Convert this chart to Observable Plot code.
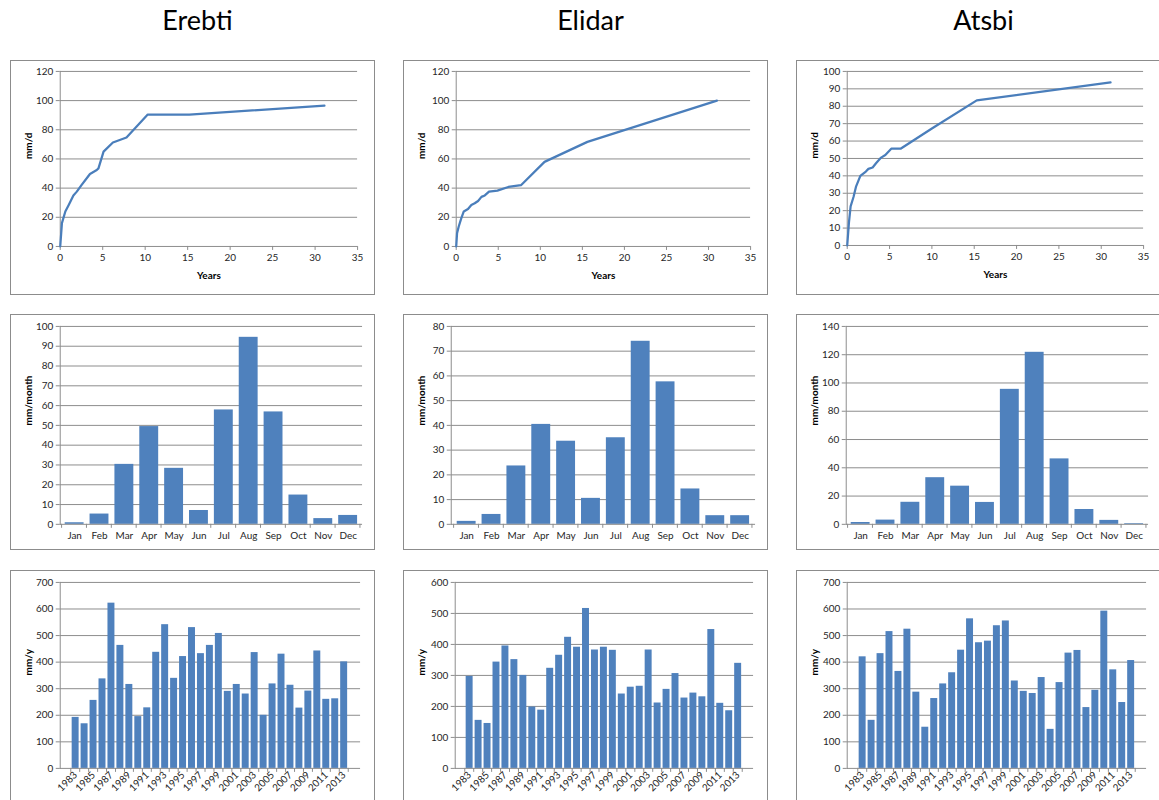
<!DOCTYPE html>
<html><head><meta charset="utf-8">
<script src="https://cdn.jsdelivr.net/npm/d3@7"></script>
<script src="https://cdn.jsdelivr.net/npm/@observablehq/plot@0.6"></script>
<style>
body{margin:0;width:1159px;height:800px;overflow:hidden;background:#fff;position:relative;font-family:Lato,"Open Sans",sans-serif}
.title{position:absolute;top:3px;font-size:27px;line-height:34px;text-align:center;color:#000;font-family:Lato,"Open Sans",sans-serif}
.box{position:absolute;border:1px solid #8c8c8c;box-sizing:border-box;background:#fff}
.box svg{position:absolute;left:-1px;top:-1px;overflow:visible}
</style></head><body>
<script>
// ---------- data ----------
const stations = ["Erebti", "Elidar", "Atsbi"];
const months = ["Jan","Feb","Mar","Apr","May","Jun","Jul","Aug","Sep","Oct","Nov","Dec"];
const years = ["1983","1984","1985","1986","1987","1988","1989","1990","1991","1992","1993","1994","1995","1996","1997","1998","1999","2000","2001","2002","2003","2004","2005","2006","2007","2008","2009","2010","2011","2012","2013"];
const yearTickLabels = ["1983","1985","1987","1989","1991","1993","1995","1997","1999","2001","2003","2005","2007","2009","2011","2013"];

// Row 1: intensity vs return period (Years, mm/d)
const erebtiYears = [0, 0.2, 0.6, 1.0, 1.55, 1.95, 2.5, 3.5, 4.3, 4.5, 5.1, 6.2, 7.8, 10.3, 15.2, 31.1];
const erebtiMmd   = [0, 16, 24, 28.5, 35, 37.6, 42, 49.7, 52.4, 53.5, 65, 71.3, 74.7, 90.4, 90.4, 96.6];
const elidarYears = [0, 0.1, 0.3, 0.6, 0.9, 1.4, 1.8, 2.2, 2.6, 3.0, 3.4, 3.9, 4.9, 6.2, 7.7, 10.5, 15.6, 31.0];
const elidarMmd   = [0, 9, 13.7, 19.3, 24, 25.7, 28.4, 29.6, 31.2, 34, 35, 37.6, 38.3, 40.8, 42, 58, 71.7, 100];
const atsbiYears  = [0, 0.2, 0.4, 0.75, 1.05, 1.55, 2.2, 2.5, 3.0, 3.4, 4.0, 4.5, 5.2, 6.3, 10.0, 15.3, 31.1];
const atsbiMmd    = [0, 13, 22.5, 28, 34, 40, 42.5, 44, 44.8, 47.2, 50.5, 52, 55.6, 55.6, 67.2, 83.4, 93.7];

// Row 2: monthly rainfall (mm/month)
const erebtiMonthly = [0.8, 5.2, 30.3, 49.4, 28.3, 7.0, 57.8, 94.5, 56.8, 14.8, 2.9, 4.5];
const elidarMonthly = [1.2, 4.0, 23.6, 40.4, 33.6, 10.5, 35.0, 74.0, 57.6, 14.3, 3.5, 3.5];
const atsbiMonthly  = [1.3, 3.0, 15.6, 33.0, 27.0, 15.5, 95.5, 121.7, 46.3, 10.5, 2.8, 0.5];

// Row 3: annual rainfall (mm/y)
const erebtiAnnual = [192,168,256,337,622,463,316,195,228,437,541,339,421,530,432,463,508,290,316,280,436,200,318,430,313,227,291,442,260,262,401];
const elidarAnnual = [297,155,145,343,395,351,300,198,188,323,365,423,391,516,382,391,381,240,262,265,382,211,255,306,227,243,231,448,210,186,339];
const atsbiAnnual  = [420,181,432,515,365,524,287,155,263,318,360,445,563,473,479,537,555,329,290,282,342,147,323,434,444,229,294,592,371,248,406];

// tick values
const yearsAxisTicks = [0,5,10,15,20,25,30,35];
const ticks0to120by20 = [0,20,40,60,80,100,120];
const ticks0to100by10 = [0,10,20,30,40,50,60,70,80,90,100];
const ticks0to80by10  = [0,10,20,30,40,50,60,70,80];
const ticks0to140by20 = [0,20,40,60,80,100,120,140];
const ticks0to700by100 = [0,100,200,300,400,500,600,700];
const ticks0to600by100 = [0,100,200,300,400,500,600];

// ---------- layout ----------
const cols = [{x:10,w:365},{x:403,w:365},{x:796,w:365}];
const rows = [{y:60,h:235},{y:314,h:236},{y:570,h:245}];
const GRID = "#8c8c8c";
const LINE = "#4A7EBB";
const BAR = "#4F81BD";
const baseStyle = {fontFamily: "Lato, 'Open Sans', sans-serif", fontSize: "10px", color: "#262626", background: "transparent", overflow: "visible"};

stations.forEach((s, i) => {
  const t = document.createElement("div");
  t.className = "title";
  t.style.left = (cols[i].x + 5) + "px";
  t.style.width = cols[i].w + "px";
  t.textContent = s;
  document.body.appendChild(t);
});

function place(row, col, svg) {
  const d = document.createElement("div");
  d.className = "box";
  d.style.left = cols[col].x + "px";
  d.style.top = rows[row].y + "px";
  d.style.width = cols[col].w + "px";
  d.style.height = rows[row].h + "px";
  d.appendChild(svg);
  document.body.appendChild(d);
}

// tick marks at band boundaries (Excel style)
function boundaryTicks(domain, padInner) {
  return (index, scales, values, dims) => {
    const x = scales.x;
    const step = x(domain[1]) - x(domain[0]);
    const off = step * padInner / 2;
    const xs = domain.map(d => x(d) - off);
    xs.push(x(domain[domain.length - 1]) + step - off);
    const y0 = dims.height - dims.marginBottom;
    const g = d3.create("svg:g").attr("stroke", GRID).attr("stroke-width", 1);
    for (const xx of xs) g.append("line").attr("x1", xx).attr("x2", xx).attr("y1", y0).attr("y2", y0 + 4);
    return g.node();
  };
}

function yLabel(label, m) {
  return Plot.text([label], {text: d => d, frameAnchor: "left", dx: 18 - m.l, rotate: -90, fontWeight: "bold", fontSize: 10, fill: "#000"});
}

function lineChart(row, col, xs, ys, yTicks, m) {
  const data = xs.map((x, k) => ({x, y: ys[k]}));
  const w = cols[col].w, h = rows[row].h;
  const svg = Plot.plot({
    width: w, height: h,
    marginLeft: m.l, marginRight: m.r, marginTop: m.t, marginBottom: m.b,
    style: baseStyle,
    x: {domain: [0, 35]},
    y: {domain: [yTicks[0], yTicks[yTicks.length - 1]]},
    marks: [
      Plot.gridY(yTicks, {stroke: GRID, strokeOpacity: 1}),
      Plot.ruleX([0], {stroke: GRID}),
      Plot.axisY(yTicks, {tickSize: 4, tickPadding: 3, stroke: GRID, label: null}),
      Plot.axisX(yearsAxisTicks, {tickSize: 4, tickPadding: 4, stroke: GRID, label: null}),
      yLabel("mm/d", m),
      Plot.text(["Years"], {text: d => d, frameAnchor: "bottom", dy: 33, fontWeight: "bold", fontSize: 10, fill: "#000"}),
      Plot.line(data, {x: "x", y: "y", stroke: LINE, strokeWidth: 2.25})
    ]
  });
  place(row, col, svg);
}

function barChart(row, col, cats, vals, yTicks, label, m, pad, xLabels, rotate) {
  const data = cats.map((c, k) => ({c, v: vals[k]}));
  const w = cols[col].w, h = rows[row].h;
  const svg = Plot.plot({
    width: w, height: h,
    marginLeft: m.l, marginRight: m.r, marginTop: m.t, marginBottom: m.b,
    style: baseStyle,
    x: {domain: cats, paddingInner: pad, paddingOuter: pad / 2},
    y: {domain: [yTicks[0], yTicks[yTicks.length - 1]]},
    marks: [
      Plot.gridY(yTicks.slice(1), {stroke: GRID, strokeOpacity: 1}),
      Plot.barY(data, {x: "c", y: "v", fill: BAR}),
      Plot.ruleY([0], {stroke: GRID}),
      Plot.axisY(yTicks, {tickSize: 4, tickPadding: 3, stroke: GRID, label: null}),
      Plot.frame({anchor: "left", stroke: GRID}),
      rotate
        ? Plot.axisX(xLabels, {tickSize: 0, tickPadding: 5, tickRotate: -45, label: null, fontSize: 10})
        : Plot.axisX(xLabels, {tickSize: 0, tickPadding: 8, label: null}),
      yLabel(label, m),
      boundaryTicks(cats, pad)
    ]
  });
  place(row, col, svg);
}

// Row 1
lineChart(0, 0, erebtiYears, erebtiMmd, ticks0to120by20, {l:50, r:16, t:11, b:48});
lineChart(0, 1, elidarYears, elidarMmd, ticks0to120by20, {l:53, r:16, t:11, b:48});
lineChart(0, 2, atsbiYears, atsbiMmd, ticks0to100by10, {l:51, r:16, t:11, b:49});

// Row 2
barChart(1, 0, months, erebtiMonthly, ticks0to100by10, "mm/month", {l:50, r:11, t:12, b:25}, 0.25, months, false);
barChart(1, 1, months, elidarMonthly, ticks0to80by10, "mm/month", {l:48, r:11, t:12, b:25}, 0.25, months, false);
barChart(1, 2, months, atsbiMonthly, ticks0to140by20, "mm/month", {l:50, r:11, t:12, b:25}, 0.25, months, false);

// Row 3
barChart(2, 0, years, erebtiAnnual, ticks0to700by100, "mm/y", {l:50, r:13, t:12, b:46}, 0.2, yearTickLabels, true);
barChart(2, 1, years, elidarAnnual, ticks0to600by100, "mm/y", {l:52, r:13, t:12, b:46}, 0.2, yearTickLabels, true);
barChart(2, 2, years, atsbiAnnual, ticks0to700by100, "mm/y", {l:51, r:13, t:12, b:46}, 0.2, yearTickLabels, true);
</script>
</body></html>
